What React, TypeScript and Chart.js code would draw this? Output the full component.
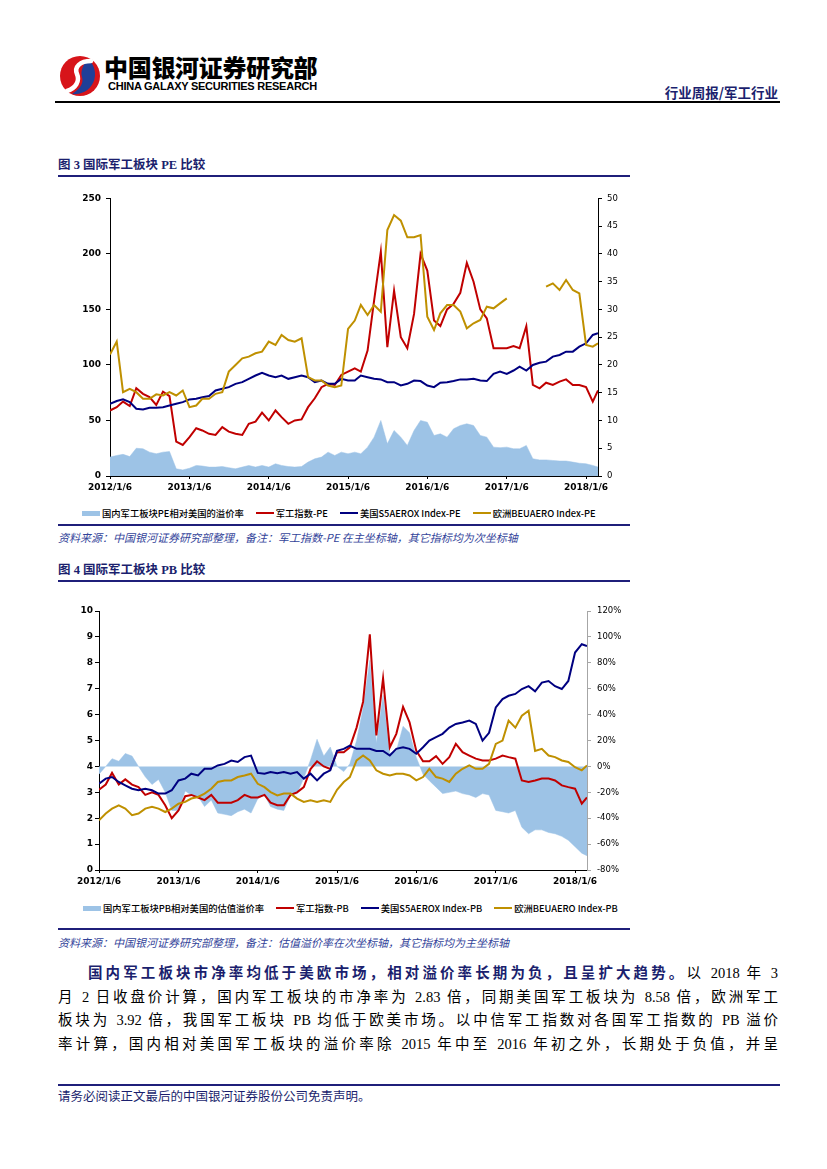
import React, { useEffect, useRef } from "react";
import { Chart, registerables } from "chart.js";

Chart.register(...registerables);

// ---------- DATA ----------
const dates = [
  "2012-01-06","2012-02-06","2012-03-06","2012-04-06","2012-05-06","2012-06-06","2012-07-06","2012-08-06","2012-09-06","2012-10-06","2012-11-06","2012-12-06",
  "2013-01-06","2013-02-06","2013-03-06","2013-04-06","2013-05-06","2013-06-06","2013-07-06","2013-08-06","2013-09-06","2013-10-06","2013-11-06","2013-12-06",
  "2014-01-06","2014-02-06","2014-03-06","2014-04-06","2014-05-06","2014-06-06","2014-07-06","2014-08-06","2014-09-06","2014-10-06","2014-11-06","2014-12-06",
  "2015-01-06","2015-02-06","2015-03-06","2015-04-06","2015-05-06","2015-06-06","2015-07-06","2015-08-06","2015-09-06","2015-10-06","2015-11-06","2015-12-06",
  "2016-01-06","2016-02-06","2016-03-06","2016-04-06","2016-05-06","2016-06-06","2016-07-06","2016-08-06","2016-09-06","2016-10-06","2016-11-06","2016-12-06",
  "2017-01-06","2017-02-06","2017-03-06","2017-04-06","2017-05-06","2017-06-06","2017-07-06","2017-08-06","2017-09-06","2017-10-06","2017-11-06","2017-12-06",
  "2018-01-06","2018-02-06","2018-03-02",
];
const axisStart = "2012-01-06";
const axisEnd = "2018-03-02";
const xTickDates = ["2012-01-06","2013-01-06","2014-01-06","2015-01-06","2016-01-06","2017-01-06","2018-01-06"];
const xTickLabels = ["2012/1/6","2013/1/6","2014/1/6","2015/1/6","2016/1/6","2017/1/6","2018/1/6"];

// Figure 3 (PE)
const pePremium = [
  3.4, 3.7, 3.9, 3.5, 5.0, 4.9, 4.3, 4.0, 4.3, 4.4, 1.3, 1.1,
  1.4, 1.9, 1.8, 1.6, 1.6, 1.7, 1.5, 1.3, 1.6, 1.9, 1.6, 1.9,
  1.6, 2.2, 1.9, 1.7, 1.6, 1.7, 2.5, 3.1, 3.4, 4.3, 3.7, 4.3,
  4.0, 4.3, 4.0, 5.2, 7.0, 10.0, 5.8, 8.2, 7.0, 5.5, 8.2, 10.0,
  9.7, 7.3, 7.6, 7.0, 8.5, 9.1, 9.4, 9.1, 7.3, 7.0, 5.2, 5.1,
  5.2, 4.9, 4.9, 5.5, 3.1, 2.9, 2.9, 2.8, 2.7, 2.7, 2.5, 2.3,
  2.2, 1.9, 1.6,
];
const peMilitary = [
  59, 62, 67, 63, 79, 74, 71, 64, 76, 72, 31, 28,
  35, 43, 41, 38, 37, 44, 40, 38, 37, 47, 49, 57,
  50, 59, 53, 47, 50, 51, 62, 70, 80, 83, 82, 91,
  94, 97, 94, 113, 158, 202, 116, 167, 125, 115, 146, 200,
  185, 140, 135, 150, 155, 165, 192, 175, 150, 142, 115, 115,
  115, 117, 115, 135, 82, 79, 84, 82, 85, 87, 82, 82,
  80, 67, 77,
];
const peUS = [
  13.0, 13.5, 13.8, 13.3, 12.1, 12.0, 12.3, 12.3, 12.4, 12.7, 13.0, 13.3,
  13.8, 13.9, 14.2, 14.4, 15.4, 15.7, 16.0, 16.6, 16.9, 17.5, 18.1, 18.6,
  18.1, 17.8, 18.1, 17.5, 17.8, 18.1, 17.8, 16.9, 17.2, 16.6, 16.6, 17.5,
  17.2, 17.2, 18.1, 17.8, 17.5, 17.4, 16.9, 16.9, 16.3, 16.6, 17.2, 17.1,
  16.3, 16.0, 16.8, 16.9, 17.1, 17.4, 17.4, 17.5, 17.2, 17.1, 18.4, 18.8,
  18.4, 19.0, 19.7, 19.0, 20.0, 20.4, 20.6, 21.5, 21.8, 22.4, 22.4, 23.3,
  23.9, 25.4, 25.7,
];
const peEU = [
  21.9, 24.2, 15.1, 15.7, 15.1, 13.9, 13.9, 14.7, 14.5, 15.1, 14.5, 15.4,
  12.4, 12.7, 13.9, 13.9, 14.8, 15.1, 18.8, 20.0, 21.2, 21.5, 22.1, 22.4,
  24.2, 23.6, 25.4, 24.5, 24.2, 24.8, 17.8, 17.2, 17.2, 16.3, 16.0, 16.3,
  26.5, 28.0, 30.8, 29.0, 30.8, 29.6, 44.3, 47.0, 46.0, 43.0, 43.0, 43.4,
  28.7, 26.3, 29.3, 30.8, 30.8, 29.6, 26.6, 27.5, 28.1, 30.5, 30.2, 31.1,
  32.0, null, null, null, null, null, 34.1, 34.7, 33.5, 35.3, 33.5, 32.9,
  23.6, 23.3, 23.9,
];
const peLeftTicks = { min: 0, max: 250, step: 50 };
const peRightTicks = { min: 0, max: 50, step: 5 };

// Figure 4 (PB)
const pbPremium = [
  -6, 0, 6, 4, 10, 8, 0, -8, -14, -10, -20, -34,
  -34, -19, -22, -23, -31, -26, -36, -37, -38, -35, -33, -36,
  -25, -22, -31, -33, -34, -22, -21, -9, 5, 21, 8, 15,
  0, -4, 2, 20, 45, 82, 18, 55, 10, 12, 31, 26,
  7, -6, -11, -16, -21, -20, -19, -21, -22, -24, -21, -22,
  -34, -35, -36, -34, -47, -52, -49, -49, -51, -52, -54, -57,
  -62, -67, -69,
];
const pbMilitary = [
  3.1, 3.3, 3.75, 3.3, 3.5, 3.3, 3.2, 2.9, 3.0, 2.9, 2.5, 2.0,
  2.3, 2.85, 2.9, 2.8, 2.7, 2.9, 2.6, 2.6, 2.6, 2.7, 2.9, 2.8,
  2.8, 2.9, 2.6, 2.5, 2.5, 2.9, 3.0, 3.2, 3.9, 4.2, 4.0, 3.9,
  4.55, 4.55, 4.74, 5.5, 6.5, 9.1, 5.2, 7.4, 4.74, 5.26, 6.3, 5.7,
  4.6, 4.2, 4.2, 4.4, 4.1, 4.36, 4.87, 4.55, 4.42, 4.3, 4.23, 4.23,
  4.3, 4.42, 4.36, 4.3, 3.46, 3.4, 3.46, 3.53, 3.53, 3.46, 3.27, 3.2,
  3.14, 2.56, 2.8,
];
const pbUS = [
  3.33, 3.53, 3.59, 3.4, 3.27, 3.14, 3.08, 3.14, 3.08, 2.95, 2.95, 3.08,
  3.46, 3.53, 3.72, 3.65, 3.91, 3.91, 4.04, 4.1, 4.23, 4.17, 4.36, 4.42,
  3.75, 3.72, 3.78, 3.74, 3.78, 3.72, 3.78, 3.53, 3.72, 3.46, 3.72, 3.85,
  4.6, 4.68, 4.8, 4.68, 4.68, 4.68, 4.6, 4.6, 4.42, 4.68, 4.74, 4.68,
  4.49, 4.74, 5.0, 5.13, 5.26, 5.5, 5.64, 5.7, 5.77, 5.64, 5.0, 5.3,
  6.28, 6.6, 6.73, 6.8, 6.99, 7.1, 6.9, 7.24, 7.3, 7.1, 6.99, 7.3,
  8.4, 8.72, 8.65,
];
const pbEU = [
  1.92, 2.18, 2.37, 2.5, 2.37, 2.12, 2.18, 2.37, 2.44, 2.37, 2.24, 2.37,
  2.56, 2.63, 2.76, 2.82, 2.95, 3.14, 3.4, 3.46, 3.46, 3.59, 3.65, 3.72,
  3.33, 3.2, 3.01, 2.88, 2.95, 2.95, 2.76, 2.63, 2.69, 2.63, 2.69, 2.63,
  3.1, 3.4, 3.59, 4.23, 4.42, 4.23, 3.85, 3.72, 3.65, 3.72, 3.72, 3.65,
  3.46, 3.59, 3.91, 3.59, 3.53, 3.4, 3.72, 3.91, 4.04, 3.91, 3.91, 4.1,
  4.87, 5.0, 5.77, 5.5, 5.96, 6.15, 4.6, 4.68, 4.42, 4.36, 4.23, 4.17,
  3.97, 3.85, 4.04,
];
const pbLeftTicks = { min: 0, max: 10, step: 1 };
const pbRightTicks = { min: -80, max: 120, step: 20 };

const peLabels = ["国内军工板块PE相对美国的溢价率", "军工指数-PE", "美国S5AEROX Index-PE", "欧洲BEUAERO Index-PE"];
const pbLabels = ["国内军工板块PB相对美国的估值溢价率", "军工指数-PB", "美国S5AEROX Index-PB", "欧洲BEUAERO Index-PB"];

// ---------- STYLE ----------
const C_AREA = "#9dc3e6";
const C_RED = "#c00000";
const C_NAVY = "#000080";
const C_GOLD = "#bf9000";
const C_TITLE = "#1b1f6e";
const C_NOTE = "#33449a";

const dayOf = (s: string) => {
  const [y, m, d] = s.split("-").map(Number);
  return (Date.UTC(y, m - 1, d) - Date.UTC(2012, 0, 6)) / 86400000;
};
const pts = (vals: (number | null)[]) => vals.map((v, i) => ({ x: dayOf(dates[i]), y: v }));

const tickFontBold = { family: "DejaVu Sans", size: 9, weight: "bold" as const };
const tickFontReg = { family: "DejaVu Sans", size: 8.5 };

function makeConfig(kind: "pe" | "pb") {
  const isPE = kind === "pe";
  const leftT = isPE ? peLeftTicks : pbLeftTicks;
  const rightT = isPE ? peRightTicks : pbRightTicks;
  const area = isPE ? pePremium : pbPremium;
  const red = isPE ? peMilitary : pbMilitary;
  const navy = isPE ? peUS : pbUS;
  const gold = isPE ? peEU : pbEU;
  const lineAxis = isPE ? "y1" : "y";
  const dims = isPE
    ? { left: 50, right: 42, bottom: 22 }
    : { left: 49, right: 53, bottom: 25 };
  return {
    type: "line" as const,
    data: {
      datasets: [
        {
          label: "premium", data: pts(area), yAxisID: "y1", order: 4,
          borderColor: C_AREA, backgroundColor: C_AREA, borderWidth: 0.5,
          fill: isPE ? "origin" : { value: 0 },
        },
        { label: "red", data: pts(red), yAxisID: "y", order: 3, borderColor: C_RED, borderWidth: 2, fill: false },
        { label: "navy", data: pts(navy), yAxisID: lineAxis, order: 2, borderColor: C_NAVY, borderWidth: 2, fill: false },
        { label: "gold", data: pts(gold), yAxisID: lineAxis, order: 1, borderColor: C_GOLD, borderWidth: 2, fill: false, spanGaps: false },
      ],
    },
    options: {
      animation: false as const,
      responsive: false,
      maintainAspectRatio: false,
      layout: { padding: { top: 10, left: 0, right: 0, bottom: 0 } },
      elements: { point: { radius: 0 }, line: { tension: 0 } },
      plugins: { legend: { display: false }, tooltip: { enabled: false } },
      scales: {
        x: {
          type: "linear" as const,
          min: 0,
          max: dayOf(axisEnd) - dayOf(axisStart),
          afterBuildTicks: (s: any) => { s.ticks = xTickDates.map((d) => ({ value: dayOf(d) })); },
          afterFit: (s: any) => { s.height = dims.bottom; },
          ticks: {
            autoSkip: false, maxRotation: 0, minRotation: 0, padding: 3,
            color: "#000", font: tickFontBold,
            callback: (_v: any, i: number) => xTickLabels[i],
          },
          grid: { drawOnChartArea: false, drawTicks: true, tickLength: 3, color: "#000", lineWidth: 1 },
          border: { display: true, color: "#000", width: 1 },
        },
        y: {
          position: "left" as const,
          min: leftT.min, max: leftT.max,
          afterFit: (s: any) => { s.width = dims.left; },
          ticks: { stepSize: leftT.step, color: "#000", font: tickFontBold, padding: isPE ? 5 : 2 },
          grid: { drawOnChartArea: false, drawTicks: true, tickLength: 4, color: "#000" },
          border: { display: true, color: "#000", width: 1 },
        },
        y1: {
          position: "right" as const,
          min: rightT.min, max: rightT.max,
          afterFit: (s: any) => { s.width = dims.right; },
          ticks: {
            stepSize: rightT.step, color: "#000", font: tickFontReg, padding: isPE ? 5 : 6,
            callback: (v: any) => (isPE ? String(v) : `${v}%`),
          },
          grid: { drawOnChartArea: false, drawTicks: true, tickLength: 4, color: isPE ? "#000" : "#a6a6a6" },
          border: { display: true, color: isPE ? "#000" : "#a6a6a6", width: 1 },
        },
      },
    },
  };
}

function ChartCanvas({ kind, left, top, width, height }: { kind: "pe" | "pb"; left: number; top: number; width: number; height: number }) {
  const ref = useRef<HTMLCanvasElement | null>(null);
  useEffect(() => {
    if (!ref.current) return;
    const chart = new Chart(ref.current, makeConfig(kind) as any);
    return () => chart.destroy();
  }, [kind]);
  return (
    <canvas
      ref={ref}
      width={width}
      height={height}
      style={{ position: "absolute", left, top, width, height }}
    />
  );
}

function Legend({ labels, left, top }: { labels: string[]; left: number; top: number }) {
  const colors = [C_AREA, C_RED, C_NAVY, C_GOLD];
  return (
    <div style={{ position: "absolute", left, top, height: 12, display: "flex", alignItems: "center", fontFamily: '"Noto Sans CJK SC", sans-serif', fontSize: 9.3, fontWeight: 500, color: "#000", whiteSpace: "nowrap" }}>
      {labels.map((t, i) => (
        <div key={t} style={{ display: "flex", alignItems: "center", marginRight: 12 }}>
          <div style={{ width: 18, height: i === 0 ? 5 : 2.5, background: colors[i], marginRight: 2 }} />
          <span>{t}</span>
        </div>
      ))}
    </div>
  );
}

function Logo() {
  return (
    <svg width={44} height={42} viewBox="0 0 44 42" style={{ position: "absolute", left: 58, top: 55 }}>
      <ellipse cx={22} cy={21} rx={20} ry={20} fill="#d7141a" />
      <path d="M 30 4 A 20 20 0 0 1 14 39 C 22 34 26 28 24 22 C 22 16 26 8 30 4 Z" fill="#1f3f98" />
      <path d="M 33 6 C 22 6 16 12 19 19 C 22 26 18 33 9 36" stroke="#fff" strokeWidth={4.5} fill="none" strokeLinecap="round" />
    </svg>
  );
}

const bodyLines = [
  { indent: true, bold: "国内军工板块市净率均低于美欧市场，相对溢价率长期为负，且呈扩大趋势。", rest: "以 2018 年 3" },
  { indent: false, bold: "", rest: "月 2 日收盘价计算，国内军工板块的市净率为 2.83 倍，同期美国军工板块为 8.58 倍，欧洲军工" },
  { indent: false, bold: "", rest: "板块为 3.92 倍，我国军工板块 PB 均低于欧美市场。以中信军工指数对各国军工指数的 PB 溢价" },
  { indent: false, bold: "", rest: "率计算，国内相对美国军工板块的溢价率除 2015 年中至 2016 年初之外，长期处于负值，并呈" },
];

export default function App() {
  const cjk = '"Noto Sans CJK SC", sans-serif';
  const serifCjk = '"Liberation Serif", "Noto Sans CJK SC", serif';
  return (
    <div style={{ position: "absolute", left: 0, top: 0, width: 827, height: 1169, background: "#fff", overflow: "hidden" }}>
      {/* Header */}
      <Logo />
      <div style={{ position: "absolute", left: 104, top: 52, fontFamily: cjk, fontWeight: 900, fontSize: 24, lineHeight: "30px", color: "#000", letterSpacing: -0.3 }}>中国银河证券研究部</div>
      <div style={{ position: "absolute", left: 108, top: 80, fontFamily: '"Liberation Sans", Arial, sans-serif', fontWeight: 700, fontSize: 11, lineHeight: "13px", color: "#000", letterSpacing: -0.25 }}>CHINA GALAXY SECURITIES RESEARCH</div>
      <div style={{ position: "absolute", right: 49, top: 83, fontFamily: cjk, fontWeight: 700, fontSize: 13.5, lineHeight: "18px", color: C_TITLE }}>行业周报/军工行业</div>
      <div style={{ position: "absolute", left: 55, top: 101, width: 725, height: 2, background: "#000" }} />

      {/* Figure 3 */}
      <div style={{ position: "absolute", left: 58, top: 156, fontFamily: serifCjk, fontWeight: 700, fontSize: 12.5, lineHeight: "18px", color: C_TITLE }}>图 3 国际军工板块 PE 比较</div>
      <div style={{ position: "absolute", left: 58, top: 175, width: 572, height: 2, background: "#1f1f7a" }} />
      <ChartCanvas kind="pe" left={60} top={188} width={580} height={310} />
      <Legend labels={peLabels} left={82} top={507} />
      <div style={{ position: "absolute", left: 58, top: 524, width: 572, height: 2, background: "#1f1f7a" }} />
      <div style={{ position: "absolute", left: 58, top: 529, fontFamily: cjk, fontStyle: "italic", fontSize: 11, lineHeight: "16px", color: C_NOTE }}>资料来源：中国银河证券研究部整理，备注：军工指数-PE 在主坐标轴，其它指标均为次坐标轴</div>

      {/* Figure 4 */}
      <div style={{ position: "absolute", left: 58, top: 561, fontFamily: serifCjk, fontWeight: 700, fontSize: 12.5, lineHeight: "18px", color: C_TITLE }}>图 4 国际军工板块 PB 比较</div>
      <div style={{ position: "absolute", left: 58, top: 580, width: 572, height: 2, background: "#1f1f7a" }} />
      <ChartCanvas kind="pb" left={50} top={600} width={590} height={295} />
      <Legend labels={pbLabels} left={83} top={902} />
      <div style={{ position: "absolute", left: 58, top: 928, width: 572, height: 2, background: "#1f1f7a" }} />
      <div style={{ position: "absolute", left: 58, top: 934, fontFamily: cjk, fontStyle: "italic", fontSize: 11, lineHeight: "16px", color: C_NOTE }}>资料来源：中国银河证券研究部整理，备注：估值溢价率在次坐标轴，其它指标均为主坐标轴</div>

      {/* Body text */}
      <div style={{ position: "absolute", left: 58, top: 962, width: 720, fontFamily: serifCjk, fontSize: 14.5, lineHeight: "23.7px", color: "#000" }}>
        {bodyLines.map((l, i) => (
          <div key={i} style={{ paddingLeft: l.indent ? 30 : 0, textAlign: "justify", textAlignLast: "justify", whiteSpace: "nowrap" as const }}>
            {l.bold && <span style={{ fontWeight: 700, color: C_TITLE }}>{l.bold}</span>}
            <span>{l.rest}</span>
          </div>
        ))}
      </div>

      {/* Footer */}
      <div style={{ position: "absolute", left: 58, top: 1084, width: 722, height: 2, background: "#1f1f7a" }} />
      <div style={{ position: "absolute", left: 58, top: 1089, fontFamily: serifCjk, fontSize: 12.5, lineHeight: "16px", color: C_TITLE }}>请务必阅读正文最后的中国银河证券股份公司免责声明。</div>
    </div>
  );
}
